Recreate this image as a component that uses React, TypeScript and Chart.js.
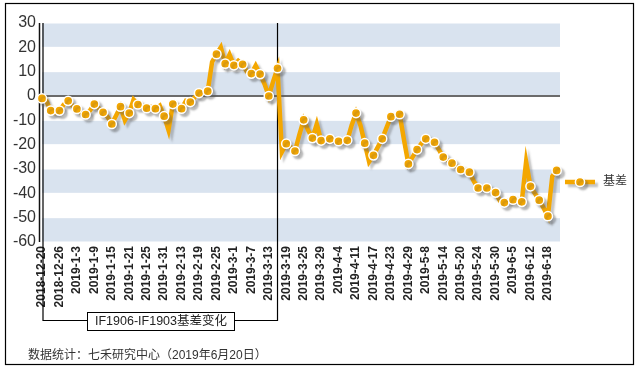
import React, { useEffect, useRef } from "react";
import { Chart, registerables } from "chart.js";

Chart.register(...registerables);

const dates: string[] = [
  "2018-12-20", "2018-12-21", "2018-12-24", "2018-12-25", "2018-12-26", "2018-12-27", "2018-12-28",
  "2019-1-2", "2019-1-3", "2019-1-4", "2019-1-7", "2019-1-8", "2019-1-9", "2019-1-10", "2019-1-11",
  "2019-1-14", "2019-1-15", "2019-1-16", "2019-1-17", "2019-1-18", "2019-1-21", "2019-1-22", "2019-1-23",
  "2019-1-24", "2019-1-25", "2019-1-28", "2019-1-29", "2019-1-30", "2019-1-31", "2019-2-1", "2019-2-11",
  "2019-2-12", "2019-2-13", "2019-2-14", "2019-2-15", "2019-2-18", "2019-2-19", "2019-2-20", "2019-2-21",
  "2019-2-22", "2019-2-25", "2019-2-26", "2019-2-27", "2019-2-28", "2019-3-1", "2019-3-4", "2019-3-5",
  "2019-3-6", "2019-3-7", "2019-3-8", "2019-3-11", "2019-3-12", "2019-3-13", "2019-3-14", "2019-3-15",
  "2019-3-18", "2019-3-19", "2019-3-20", "2019-3-21", "2019-3-22", "2019-3-25", "2019-3-26", "2019-3-27",
  "2019-3-28", "2019-3-29", "2019-4-1", "2019-4-2", "2019-4-3", "2019-4-4", "2019-4-8", "2019-4-9",
  "2019-4-10", "2019-4-11", "2019-4-12", "2019-4-15", "2019-4-16", "2019-4-17", "2019-4-18", "2019-4-19",
  "2019-4-22", "2019-4-23", "2019-4-24", "2019-4-25", "2019-4-26", "2019-4-29", "2019-4-30", "2019-5-6",
  "2019-5-7", "2019-5-8", "2019-5-9", "2019-5-10", "2019-5-13", "2019-5-14", "2019-5-15", "2019-5-16",
  "2019-5-17", "2019-5-20", "2019-5-21", "2019-5-22", "2019-5-23", "2019-5-24", "2019-5-27", "2019-5-28",
  "2019-5-29", "2019-5-30", "2019-5-31", "2019-6-3", "2019-6-4", "2019-6-5", "2019-6-6", "2019-6-10",
  "2019-6-11", "2019-6-12", "2019-6-13", "2019-6-14", "2019-6-17", "2019-6-18", "2019-6-19", "2019-6-20",
  "",
];

const basis: (number | null)[] = [
  -1, -2, -6, -7, -6, -3.5, -2, -4, -5.3, -7,
  -7.6, -6, -3.3, -5, -6.7, -8.5, -11.5, -8, -4.4, -10,
  -7, -1.5, -3.5, -4.5, -5, -4.5, -5.2, -4, -8.3, -14,
  -3.3, -4, -5.2, -2, -2.5, -0.5, 1.2, 1.5, 2, 14,
  17.2, 20, 13.3, 17, 12.6, 14.5, 13, 10, 9.2, 12.5,
  9, 5, 0, 6, 11.4, -23, -19.6, -21, -22.6, -16,
  -9.8, -14, -17.3, -11.5, -18.3, -18, -17.6, -18, -18.6, -18.3,
  -18.2, -12, -7, -12, -19.4, -27, -24.4, -21, -17.6, -13,
  -8.5, -8, -7.5, -18, -27.9, -25, -22, -19.5, -17.6, -18,
  -19, -22, -25.1, -26.5, -27.6, -29, -30.2, -30.5, -31.3, -35,
  -37.8, -37.5, -37.8, -38.5, -39.7, -43, -43.8, -43, -42.6, -43,
  -43.5, -27, -37.1, -40, -42.8, -46, -49.4, -33, -30.6,
  null,
];

const yTicks = { min: -60, max: 30, step: 10 };
const seriesName = "基差";
const bracketLabel = "IF1906-IF1903基差变化";
const bracketEndIndex = 54;
const footerText = "数据统计：七禾研究中心（2019年6月20日）";

const ORANGE = "#F4A700";
const BAND = "#D9E3EF";
const FONT = "'Liberation Sans', 'Noto Sans CJK SC', Arial, sans-serif";

export default function App() {
  const ref = useRef<HTMLCanvasElement | null>(null);

  useEffect(() => {
    document.body.style.margin = "0";
    const canvas = ref.current;
    if (!canvas) return;

    const setShadow = (ctx: CanvasRenderingContext2D) => {
      ctx.shadowColor = "rgba(90,90,90,0.35)";
      ctx.shadowOffsetX = 3;
      ctx.shadowOffsetY = 3;
      ctx.shadowBlur = 2;
    };

    const decor = {
      id: "decor",
      beforeDraw(chart: any) {
        const { ctx, chartArea: a, scales } = chart;
        const y = scales.y;
        ctx.save();
        ctx.fillStyle = "#fff";
        ctx.fillRect(0, 0, chart.width, chart.height);
        const bandRight = a.right - 1;
        for (let v = yTicks.min; v < yTicks.max; v += yTicks.step) {
          const k = Math.round((v - yTicks.min) / yTicks.step);
          if (k % 2 === 0) {
            const y1 = y.getPixelForValue(v + yTicks.step);
            const y2 = y.getPixelForValue(v);
            ctx.fillStyle = BAND;
            ctx.fillRect(a.left, y1 + 0.5, bandRight - a.left, y2 - y1 - 1);
          }
        }
        ctx.strokeStyle = "#000";
        ctx.lineWidth = 1.2;
        ctx.strokeRect(5.5, 3.5, 628, 361);
        ctx.restore();
      },
      beforeDatasetsDraw(chart: any) {
        const { ctx, chartArea: a, scales } = chart;
        const y = scales.y;
        const x = scales.x;
        ctx.save();
        const y0 = y.getPixelForValue(0);
        ctx.strokeStyle = "#6b6b6b";
        ctx.lineWidth = 2;
        ctx.beginPath();
        ctx.moveTo(a.left, y0);
        ctx.lineTo(a.right - 1, y0);
        ctx.stroke();
        ctx.strokeStyle = "#111";
        ctx.lineWidth = 1.5;
        ctx.beginPath();
        ctx.moveTo(a.left - 2.5, a.top);
        ctx.lineTo(a.left - 2.5, a.bottom);
        ctx.stroke();
        const xe = x.getPixelForValue(bracketEndIndex);
        const yb = 320.5;
        ctx.strokeStyle = "#000";
        ctx.lineWidth = 1.2;
        ctx.beginPath();
        ctx.moveTo(a.left + 1, a.top);
        ctx.lineTo(a.left + 1, yb);
        ctx.lineTo(xe, yb);
        ctx.lineTo(xe, a.top);
        ctx.stroke();
        ctx.restore();
      },
      beforeDatasetDraw(chart: any) {
        const ctx = chart.ctx;
        ctx.save();
        setShadow(ctx);
      },
      afterDatasetDraw(chart: any) {
        chart.ctx.restore();
      },
      afterDraw(chart: any) {
        const { ctx } = chart;
        ctx.save();
        const bx = 87.5, by = 312.5, bw = 147, bh = 18;
        ctx.fillStyle = "#fff";
        ctx.fillRect(bx, by, bw, bh);
        ctx.strokeStyle = "#000";
        ctx.lineWidth = 1;
        ctx.strokeRect(bx, by, bw, bh);
        ctx.fillStyle = "#222";
        ctx.font = `12.5px ${FONT}`;
        ctx.textAlign = "center";
        ctx.textBaseline = "middle";
        ctx.fillText(bracketLabel, bx + bw / 2, by + bh / 2 + 0.5);
        const ly = 182;
        ctx.save();
        setShadow(ctx);
        ctx.strokeStyle = ORANGE;
        ctx.lineWidth = 4.5;
        ctx.beginPath();
        ctx.moveTo(565, ly);
        ctx.lineTo(595, ly);
        ctx.stroke();
        ctx.beginPath();
        ctx.arc(580, ly, 4.6, 0, Math.PI * 2);
        ctx.fillStyle = ORANGE;
        ctx.fill();
        ctx.lineWidth = 1.5;
        ctx.strokeStyle = "#fff";
        ctx.stroke();
        ctx.restore();
        ctx.fillStyle = "#333";
        ctx.font = `12px ${FONT}`;
        ctx.textAlign = "left";
        ctx.textBaseline = "middle";
        ctx.fillText(seriesName, 603, ly);
        ctx.fillText(footerText, 28, 356);
        ctx.restore();
      },
    };

    const chart = new Chart(canvas, {
      type: "line",
      data: {
        labels: dates,
        datasets: [
          {
            label: seriesName,
            data: basis,
            borderColor: ORANGE,
            backgroundColor: ORANGE,
            borderWidth: 4.5,
            tension: 0,
            pointRadius: (c: any) => (c.dataIndex % 2 === 0 ? 4.6 : 0),
            pointHoverRadius: 0,
            pointBackgroundColor: ORANGE,
            pointBorderColor: "#fff",
            pointBorderWidth: 1.5,
            spanGaps: false,
          },
        ],
      },
      options: {
        responsive: false,
        animation: false,
        events: [],
        layout: { padding: { left: 0, top: 23, right: 78, bottom: 0 } },
        plugins: {
          legend: { display: false },
          tooltip: { enabled: false },
        },
        scales: {
          x: {
            type: "category",
            offset: false,
            grid: { display: false, drawTicks: false },
            border: { display: false },
            afterFit: (s: any) => {
              s.height = 126;
            },
            ticks: {
              autoSkip: false,
              minRotation: 90,
              maxRotation: 90,
              padding: 4,
              color: "#222",
              font: { family: FONT, size: 12, weight: "bold" },
              callback: (_v: any, i: number) => (i % 4 === 0 ? dates[i] : ""),
            },
          },
          y: {
            min: yTicks.min,
            max: yTicks.max,
            grid: { display: false, drawTicks: false },
            border: { display: false },
            afterFit: (s: any) => {
              s.width = 42;
            },
            ticks: {
              stepSize: yTicks.step,
              padding: 6,
              color: "#333",
              font: { family: FONT, size: 16 },
            },
          },
        },
      },
      plugins: [decor],
    } as any);

    return () => chart.destroy();
  }, []);

  return (
    <div style={{ width: 639, height: 368 }}>
      <canvas ref={ref} width={639} height={368} style={{ display: "block" }} />
    </div>
  );
}
